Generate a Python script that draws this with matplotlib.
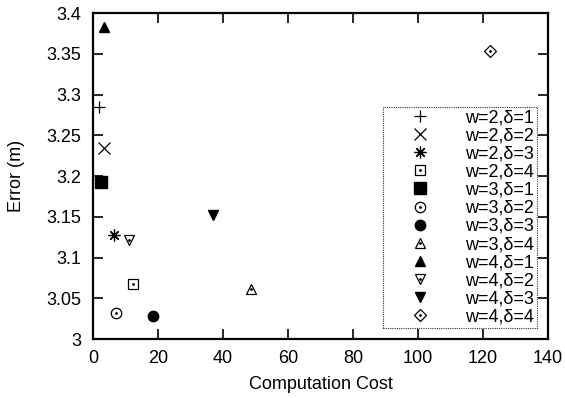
import matplotlib
matplotlib.use("Agg")
import matplotlib.pyplot as plt

plt.rcParams['font.family'] = ['Liberation Sans', 'DejaVu Sans']

labels = ["w=2,δ=1", "w=2,δ=2", "w=2,δ=3", "w=2,δ=4",
          "w=3,δ=1", "w=3,δ=2", "w=3,δ=3", "w=3,δ=4",
          "w=4,δ=1", "w=4,δ=2", "w=4,δ=3", "w=4,δ=4"]
cost = [1.8, 3.5, 6.6, 12.4, 2.5, 7.0, 18.5, 48.6, 3.4, 11.2, 37.0, 122.2]
error = [3.285, 3.234, 3.128, 3.067, 3.193, 3.032, 3.028, 3.061, 3.383, 3.121, 3.152, 3.353]
markers = ['+', 'x', (8, 2, 0), 's', 's', 'o', 'o', '^', '^', 'v', 'v', 'D']
filled = [True, True, True, False, True, False, True, False, True, False, True, False]
sizes = [8, 8, 8.5, 7.5, 8, 7.5, 7.5, 7.5, 7.5, 7.5, 7.5, 6.5]

fig = plt.figure(figsize=(5.65, 3.98), dpi=100)
ax = fig.add_axes([0.1646, 0.148, 0.8054, 0.819])

handles = []
for i in range(len(labels)):
    if markers[i] in ('+', 'x') or isinstance(markers[i], tuple):
        h, = ax.plot([cost[i]], [error[i]], linestyle='none', marker=markers[i],
                     markersize=sizes[i], color='black', markeredgewidth=0.9)
        handles.append(h)
    elif filled[i]:
        h, = ax.plot([cost[i]], [error[i]], linestyle='none', marker=markers[i],
                     markersize=sizes[i], color='black', markeredgecolor='black')
        handles.append(h)
    else:
        h, = ax.plot([cost[i]], [error[i]], linestyle='none', marker=markers[i],
                     markersize=sizes[i], markerfacecolor='white',
                     markeredgecolor='black', markeredgewidth=0.9)
        d, = ax.plot([cost[i]], [error[i]], linestyle='none', marker='o',
                     markersize=1.0, color='black')
        handles.append((h, d))

ax.set_xlim(0, 140)
ax.set_ylim(3.0, 3.4)
ax.set_xticks(range(0, 141, 20))
ax.set_yticks([3.0, 3.05, 3.1, 3.15, 3.2, 3.25, 3.3, 3.35, 3.4])
ax.set_yticklabels(['3', '3.05', '3.1', '3.15', '3.2', '3.25', '3.3', '3.35', '3.4'])
ax.tick_params(direction='in', top=True, right=True, length=7, width=1.2,
               labelsize=13)
ax.tick_params(axis='y', pad=8.5)
ax.tick_params(axis='x', pad=7.5)
for s in ax.spines.values():
    s.set_linewidth(1.6)
ax.set_xlabel('Computation Cost', fontsize=13, labelpad=7)
ax.set_ylabel('Error (m)', fontsize=13, labelpad=15)

leg = ax.legend(handles, labels, loc='lower right', bbox_to_anchor=(0.9758, 0.0337),
                fontsize=13, frameon=True, fancybox=False, labelspacing=0.06,
                handletextpad=0.6, borderpad=0.15, handlelength=3.8,
                borderaxespad=0)
fr = leg.get_frame()
fr.set_edgecolor('black')
fr.set_linestyle((0, (1, 1)))
fr.set_linewidth(0.8)

fig.savefig('out.png', dpi=100)
